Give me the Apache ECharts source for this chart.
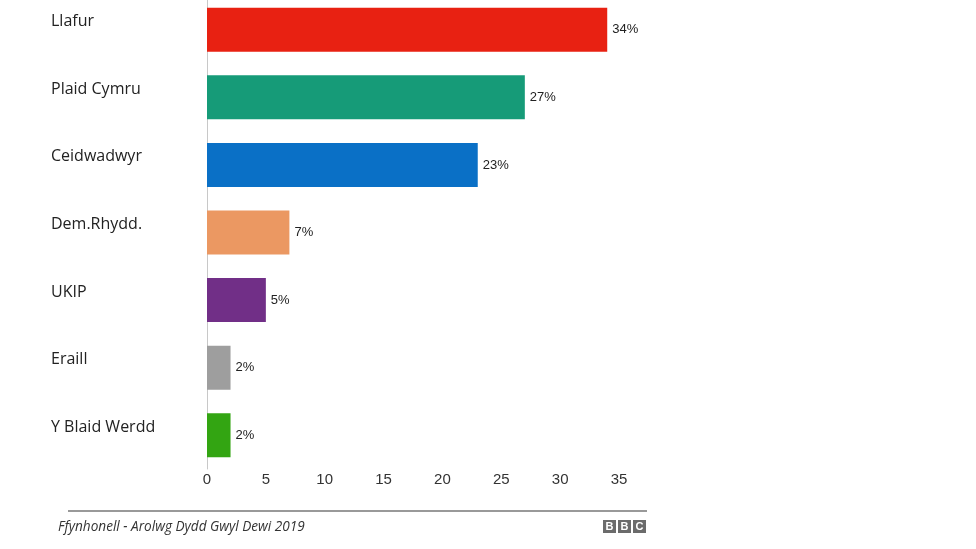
<!DOCTYPE html>
<html>
<head>
<meta charset="utf-8">
<script src="https://cdn.jsdelivr.net/npm/echarts@6/dist/echarts.min.js"></script>
<style>html,body{margin:0;padding:0;background:#fff;}#c{width:976px;height:549px;}</style>
</head>
<body>
<div id="c"></div>
<script>
const categories = ['Llafur', 'Plaid Cymru', 'Ceidwadwyr', 'Dem.Rhydd.', 'UKIP', 'Eraill', 'Y Blaid Werdd'];
const values = [34, 27, 23, 7, 5, 2, 2];
const colors = ['#E82112', '#169B78', '#0A70C6', '#EB9862', '#712F87', '#9E9E9E', '#33A512'];
const xTicks = [0, 5, 10, 15, 20, 25, 30, 35];
const source = 'Ffynhonell - Arolwg Dydd Gwyl Dewi 2019';

const chart = echarts.init(document.getElementById('c'), null, {renderer: 'canvas'});
chart.setOption({
  animation: false,
  backgroundColor: '#fff',
  grid: {left: 207, right: 357, top: -4, bottom: 80, containLabel: false, outerBoundsMode: 'none'},
  xAxis: {
    type: 'value', min: xTicks[0], max: xTicks[xTicks.length - 1], interval: 5,
    axisLine: {show: false}, axisTick: {show: false}, splitLine: {show: false},
    axisLabel: {color: '#333', fontFamily: 'Liberation Sans, Arial', fontSize: 15, margin: 3}
  },
  yAxis: {
    type: 'category', data: categories, inverse: true,
    axisLine: {show: true, lineStyle: {color: '#c8c8c8', width: 1}},
    axisTick: {show: false},
    axisLabel: {
      align: 'left', verticalAlign: 'bottom', margin: 156, color: '#222',
      fontFamily: 'Open Sans, Noto Sans', fontSize: 16, lineHeight: 16
    }
  },
  series: [{
    type: 'bar',
    data: values.map((v, i) => ({value: v, itemStyle: {color: colors[i]}})),
    barWidth: 44,
    label: {
      show: true, position: 'right', distance: 5, formatter: '{c}%',
      color: '#222', fontFamily: 'Liberation Sans, Arial', fontSize: 13
    }
  }],
  graphic: [
    {type: 'line', shape: {x1: 68, y1: 511, x2: 647, y2: 511}, style: {stroke: '#777', lineWidth: 1.5}},
    {type: 'text', left: 58, top: 520, style: {text: source, fill: '#333', font: 'italic 13.6px "Open Sans", "Noto Sans"'}},
    {type: 'group', left: 603, top: 520, children: [
      {type: 'rect', shape: {x: 0, y: 0, width: 13, height: 13}, style: {fill: '#6b6b6b'}},
      {type: 'rect', shape: {x: 15, y: 0, width: 13, height: 13}, style: {fill: '#6b6b6b'}},
      {type: 'rect', shape: {x: 30, y: 0, width: 13, height: 13}, style: {fill: '#6b6b6b'}},
      {type: 'text', style: {x: 6.5, y: 7, text: 'B', fill: '#fff', font: 'bold 11px "Liberation Sans", Arial', align: 'center', verticalAlign: 'middle'}},
      {type: 'text', style: {x: 21.5, y: 7, text: 'B', fill: '#fff', font: 'bold 11px "Liberation Sans", Arial', align: 'center', verticalAlign: 'middle'}},
      {type: 'text', style: {x: 36.5, y: 7, text: 'C', fill: '#fff', font: 'bold 11px "Liberation Sans", Arial', align: 'center', verticalAlign: 'middle'}}
    ]}
  ]
});
</script>
</body>
</html>
